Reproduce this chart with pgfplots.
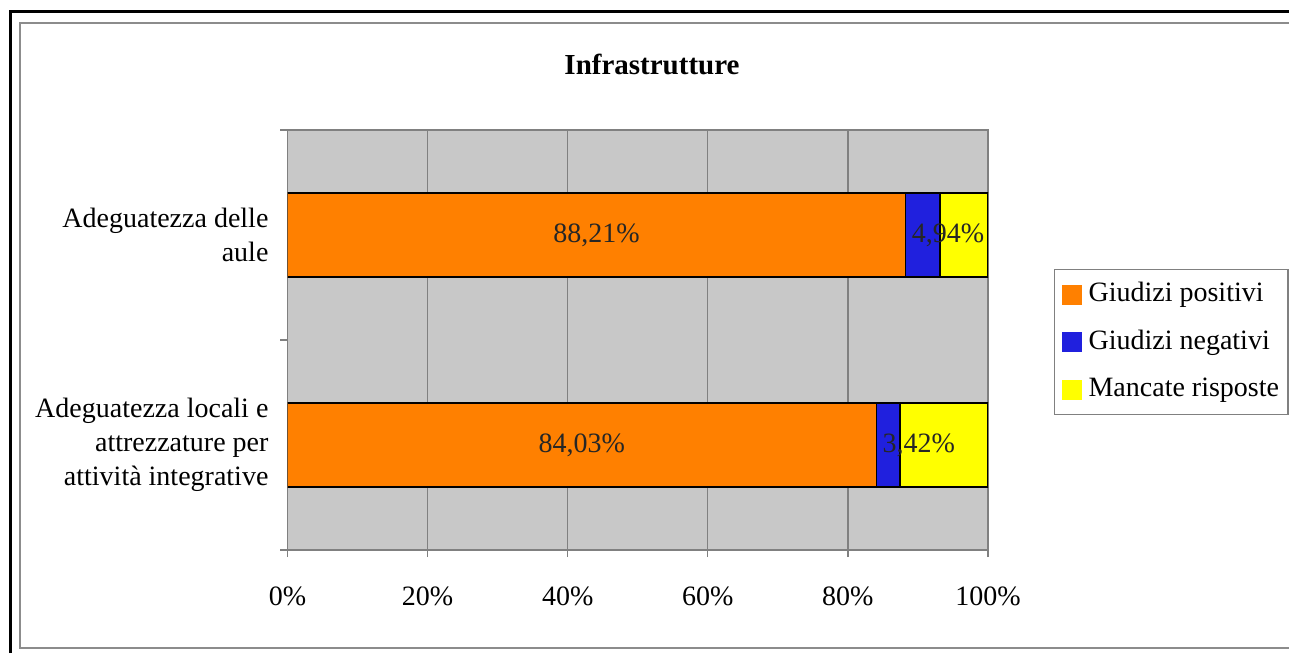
\documentclass[border=0pt]{standalone}
\usepackage{fontspec}
\setmainfont{Liberation Serif}
\usepackage{pgfplots}
\pgfplotsset{compat=1.18}
\definecolor{orangeP}{RGB}{255,128,0}
\definecolor{blueP}{RGB}{32,32,222}
\definecolor{yellowP}{RGB}{255,255,0}
\definecolor{bgGray}{RGB}{200,200,200}
\definecolor{axGray}{RGB}{128,128,128}
\begin{document}
\begin{tikzpicture}[x=1pt,y=1pt]
\useasboundingbox (0,0) rectangle (644.5,326.5);
\draw[black, line width=1.5pt] (5,0) -- (5,320.5) -- (644.5,320.5);
\draw[black!45, line width=0.6pt] (644.5,315) -- (10,315) -- (10,2.5) -- (644.5,2.5);
\node[font=\bfseries\fontsize{14.5}{17}\selectfont, anchor=base] at (326,289) {Infrastrutture};
\begin{axis}[
  at={(143.75pt,51.5pt)}, anchor=south west,
  scale only axis, width=350.25pt, height=210pt,
  xbar stacked, bar width=42pt,
  xmin=0, xmax=100, ymin=-0.5, ymax=1.5,
  axis background/.style={fill=bgGray},
  axis line style={draw=axGray, line width=0.6pt},
  xtick={0,20,40,60,80,100},
  xticklabels={0\%,20\%,40\%,60\%,80\%,100\%},
  xmajorgrids, major grid style={axGray, line width=0.6pt},
  ytick={0,1},
  yticklabels={{Adeguatezza locali e\\attrezzature per\\attività integrative},{Adeguatezza delle\\aule}},
  minor ytick={-0.5,0.5,1.5},
  tick align=outside, tick pos=left,
  major tick length=3.5pt, minor tick length=3.5pt,
  major y tick style={draw=none},
  tick style={axGray, line width=0.6pt},
  ticklabel style={font=\fontsize{14}{17}\selectfont, text=black},
  yticklabel style={align=right, xshift=-2.5pt},
  xticklabel style={yshift=-11.5pt},
  legend style={at={(1.0942,0.669)}, anchor=north west, draw=axGray, line width=0.6pt,
    fill=white, font=\fontsize{14}{17}\selectfont, inner xsep=3.5pt, inner ysep=5pt,
    row sep=8.75pt,
    /tikz/every odd column/.append style={column sep=2.5pt},
    nodes={inner sep=1pt, text height=10pt, text depth=3pt}},
  legend cell align=left,
  legend image code/.code={\fill[#1,draw=none] (0pt,-5pt) rectangle (10pt,5pt);},
]
\addplot[fill=orangeP, draw=black, line width=0.6pt] coordinates {(84.03,0) (88.21,1)};
\addplot[fill=blueP, draw=black, line width=0.6pt] coordinates {(3.42,0) (4.94,1)};
\addplot[fill=yellowP, draw=black, line width=0.6pt] coordinates {(12.55,0) (6.85,1)};
\legend{Giudizi positivi, Giudizi negativi, Mancate risposte}
\end{axis}
\begin{axis}[
  at={(143.75pt,51.5pt)}, anchor=south west,
  scale only axis, width=350.25pt, height=210pt,
  xmin=0, xmax=100, ymin=-0.5, ymax=1.5, hide axis,
]
\addplot[only marks, mark=none, nodes near coords, point meta=explicit symbolic,
  every node near coord/.style={anchor=center, font=\fontsize{14}{17}\selectfont, text=black!85}]
  coordinates {(44.105,1) [{88,21\%}] (42.015,0) [{84,03\%}]};
\addplot[only marks, mark=none, nodes near coords, point meta=explicit symbolic,
  every node near coord/.style={anchor=west, inner sep=0pt, xshift=3pt, font=\fontsize{14}{17}\selectfont, text=black!85}]
  coordinates {(88.21,1) [{4,94\%}] (84.03,0) [{3,42\%}]};
\end{axis}
\end{tikzpicture}
\end{document}
